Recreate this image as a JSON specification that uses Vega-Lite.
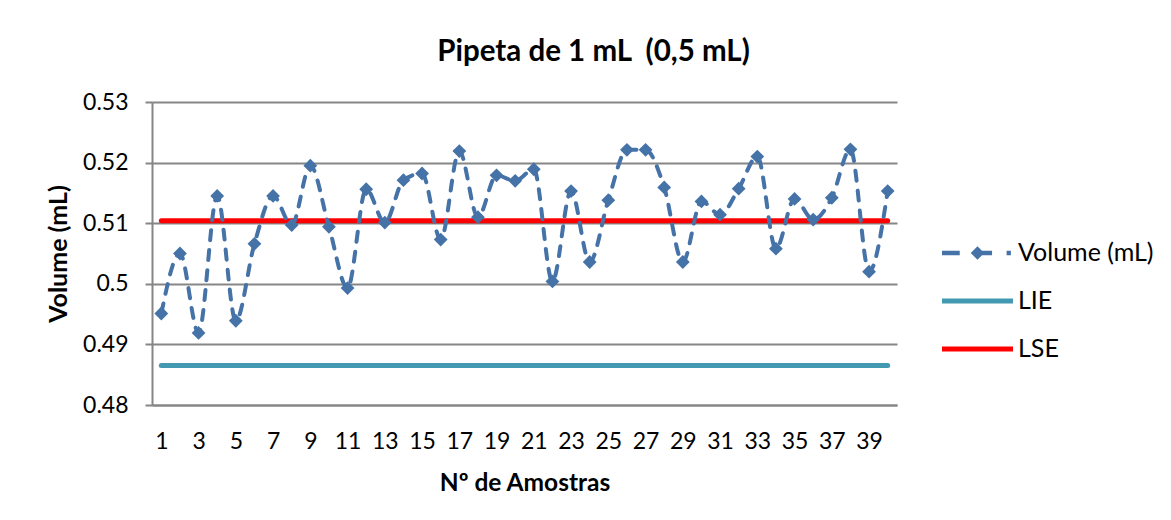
{
  "$schema": "https://vega.github.io/schema/vega-lite/v6.json",
  "width": 745,
  "height": 303,
  "autosize": {"type": "none"},
  "padding": {"left": 152, "top": 102, "right": 274, "bottom": 115},
  "background": "white",
  "title": {
    "text": "Pipeta de 1 mL\u00a0 (0,5 mL)",
    "font": "Lato",
    "fontSize": 29.5,
    "fontWeight": "bold",
    "color": "#000000",
    "anchor": "middle",
    "baseline": "alphabetic",
    "offset": 39,
    "dx": 69,
    "dy": 38
  },
  "datasets": {
    "main": [
      {"n": 1, "v": 0.4951, "s": "Volume (mL)"},
      {"n": 2, "v": 0.5050, "s": "Volume (mL)"},
      {"n": 3, "v": 0.4919, "s": "Volume (mL)"},
      {"n": 4, "v": 0.5145, "s": "Volume (mL)"},
      {"n": 5, "v": 0.4939, "s": "Volume (mL)"},
      {"n": 6, "v": 0.5066, "s": "Volume (mL)"},
      {"n": 7, "v": 0.5145, "s": "Volume (mL)"},
      {"n": 8, "v": 0.5097, "s": "Volume (mL)"},
      {"n": 9, "v": 0.5195, "s": "Volume (mL)"},
      {"n": 10, "v": 0.5094, "s": "Volume (mL)"},
      {"n": 11, "v": 0.4993, "s": "Volume (mL)"},
      {"n": 12, "v": 0.5156, "s": "Volume (mL)"},
      {"n": 13, "v": 0.5101, "s": "Volume (mL)"},
      {"n": 14, "v": 0.5171, "s": "Volume (mL)"},
      {"n": 15, "v": 0.5182, "s": "Volume (mL)"},
      {"n": 16, "v": 0.5073, "s": "Volume (mL)"},
      {"n": 17, "v": 0.5219, "s": "Volume (mL)"},
      {"n": 18, "v": 0.5110, "s": "Volume (mL)"},
      {"n": 19, "v": 0.5179, "s": "Volume (mL)"},
      {"n": 20, "v": 0.5170, "s": "Volume (mL)"},
      {"n": 21, "v": 0.5189, "s": "Volume (mL)"},
      {"n": 22, "v": 0.5004, "s": "Volume (mL)"},
      {"n": 23, "v": 0.5153, "s": "Volume (mL)"},
      {"n": 24, "v": 0.5036, "s": "Volume (mL)"},
      {"n": 25, "v": 0.5138, "s": "Volume (mL)"},
      {"n": 26, "v": 0.5221, "s": "Volume (mL)"},
      {"n": 27, "v": 0.5221, "s": "Volume (mL)"},
      {"n": 28, "v": 0.5159, "s": "Volume (mL)"},
      {"n": 29, "v": 0.5036, "s": "Volume (mL)"},
      {"n": 30, "v": 0.5136, "s": "Volume (mL)"},
      {"n": 31, "v": 0.5114, "s": "Volume (mL)"},
      {"n": 32, "v": 0.5157, "s": "Volume (mL)"},
      {"n": 33, "v": 0.5210, "s": "Volume (mL)"},
      {"n": 34, "v": 0.5058, "s": "Volume (mL)"},
      {"n": 35, "v": 0.5140, "s": "Volume (mL)"},
      {"n": 36, "v": 0.5106, "s": "Volume (mL)"},
      {"n": 37, "v": 0.5142, "s": "Volume (mL)"},
      {"n": 38, "v": 0.5222, "s": "Volume (mL)"},
      {"n": 39, "v": 0.5020, "s": "Volume (mL)"},
      {"n": 40, "v": 0.5153, "s": "Volume (mL)"}
    ],
    "limits": [
      {"n": 1, "v": 0.4865, "s": "LIE"},
      {"n": 40, "v": 0.4865, "s": "LIE"},
      {"n": 1, "v": 0.5104, "s": "LSE"},
      {"n": 40, "v": 0.5104, "s": "LSE"}
    ]
  },
  "encoding": {
    "x": {
      "field": "n",
      "type": "quantitative",
      "scale": {"domain": [0.5, 40.5], "nice": false, "zero": false},
      "axis": {
        "title": "Nº de Amostras",
        "values": [1, 3, 5, 7, 9, 11, 13, 15, 17, 19, 21, 23, 25, 27, 29, 31, 33, 35, 37, 39],
        "grid": false,
        "ticks": false,
        "tickSize": 0,
        "labelPadding": 43,
        "labelBaseline": "alphabetic",
        "labelFont": "Lato",
        "labelFontSize": 23,
        "labelColor": "#000000",
        "labelFlush": false,
        "labelOverlap": false,
        "domainColor": "#868686",
        "domainWidth": 2,
        "titleFont": "Lato",
        "titleFontSize": 24.5,
        "titleFontWeight": "bold",
        "titleColor": "#000000",
        "titlePadding": 18
      }
    },
    "y": {
      "field": "v",
      "type": "quantitative",
      "scale": {"domain": [0.48, 0.53], "nice": false, "zero": false},
      "axis": {
        "title": "Volume (mL)",
        "values": [0.48, 0.49, 0.5, 0.51, 0.52, 0.53],
        "format": "~g",
        "grid": true,
        "gridColor": "#868686",
        "gridWidth": 2,
        "tickColor": "#868686",
        "tickWidth": 2,
        "tickSize": 7,
        "labelPadding": 17,
        "labelFont": "Lato",
        "labelFontSize": 23,
        "labelColor": "#000000",
        "labelFlush": false,
        "domainColor": "#868686",
        "domainWidth": 2,
        "titleFont": "Lato",
        "titleFontSize": 25,
        "titleFontWeight": "bold",
        "titleColor": "#000000",
        "titlePadding": 11
      }
    }
  },
  "layer": [
    {
      "data": {"name": "limits"},
      "mark": {"type": "line", "strokeCap": "round", "strokeWidth": 5},
      "encoding": {
        "color": {
          "field": "s",
          "type": "nominal",
          "scale": {"domain": ["Volume (mL)", "LIE", "LSE"], "range": ["#4572A7", "#4399B1", "#FF0000"]},
          "legend": {
            "title": null,
            "orient": "none",
            "legendX": 790,
            "legendY": 129,
            "padding": 0,
            "symbolSize": 5041,
            "clipHeight": 44,
            "rowPadding": 4,
            "labelOffset": 5,
            "labelFont": "Lato",
            "labelFontSize": 25,
            "labelColor": "#000000",
            "labelLimit": 300,
            "encode": {
              "symbols": {
                "update": {
                  "shape": {"signal": "datum.value === 'Volume (mL)' ? 'M-1,-0.06H-0.5V0.06H-1Z M-0.19,0L0,-0.19L0.19,0L0,0.19Z M0,-0.06H0.41V0.06H0Z M0.82,-0.06H0.94V0.06H0.82Z' : 'M-1,-0.07H1V0.07H-1Z'"},
                  "fill": {"signal": "datum.value === 'Volume (mL)' ? '#4572A7' : datum.value === 'LIE' ? '#4399B1' : '#FF0000'"},
                  "fillOpacity": {"value": 1},
                  "strokeWidth": {"value": 0},
                  "stroke": {"value": "transparent"}
                }
              }
            }
          }
        }
      }
    },
    {
      "data": {"name": "main"},
      "mark": {"type": "line", "interpolate": "monotone", "strokeWidth": 4, "strokeDash": [10, 10], "strokeCap": "round"},
      "encoding": {
        "color": {"field": "s", "type": "nominal"}
      }
    },
    {
      "data": {"name": "main"},
      "mark": {"type": "point", "shape": "diamond", "filled": true, "size": 190, "opacity": 1, "color": "#4572A7"},
      "encoding": {}
    }
  ],
  "config": {
    "view": {"stroke": null}
  }
}
